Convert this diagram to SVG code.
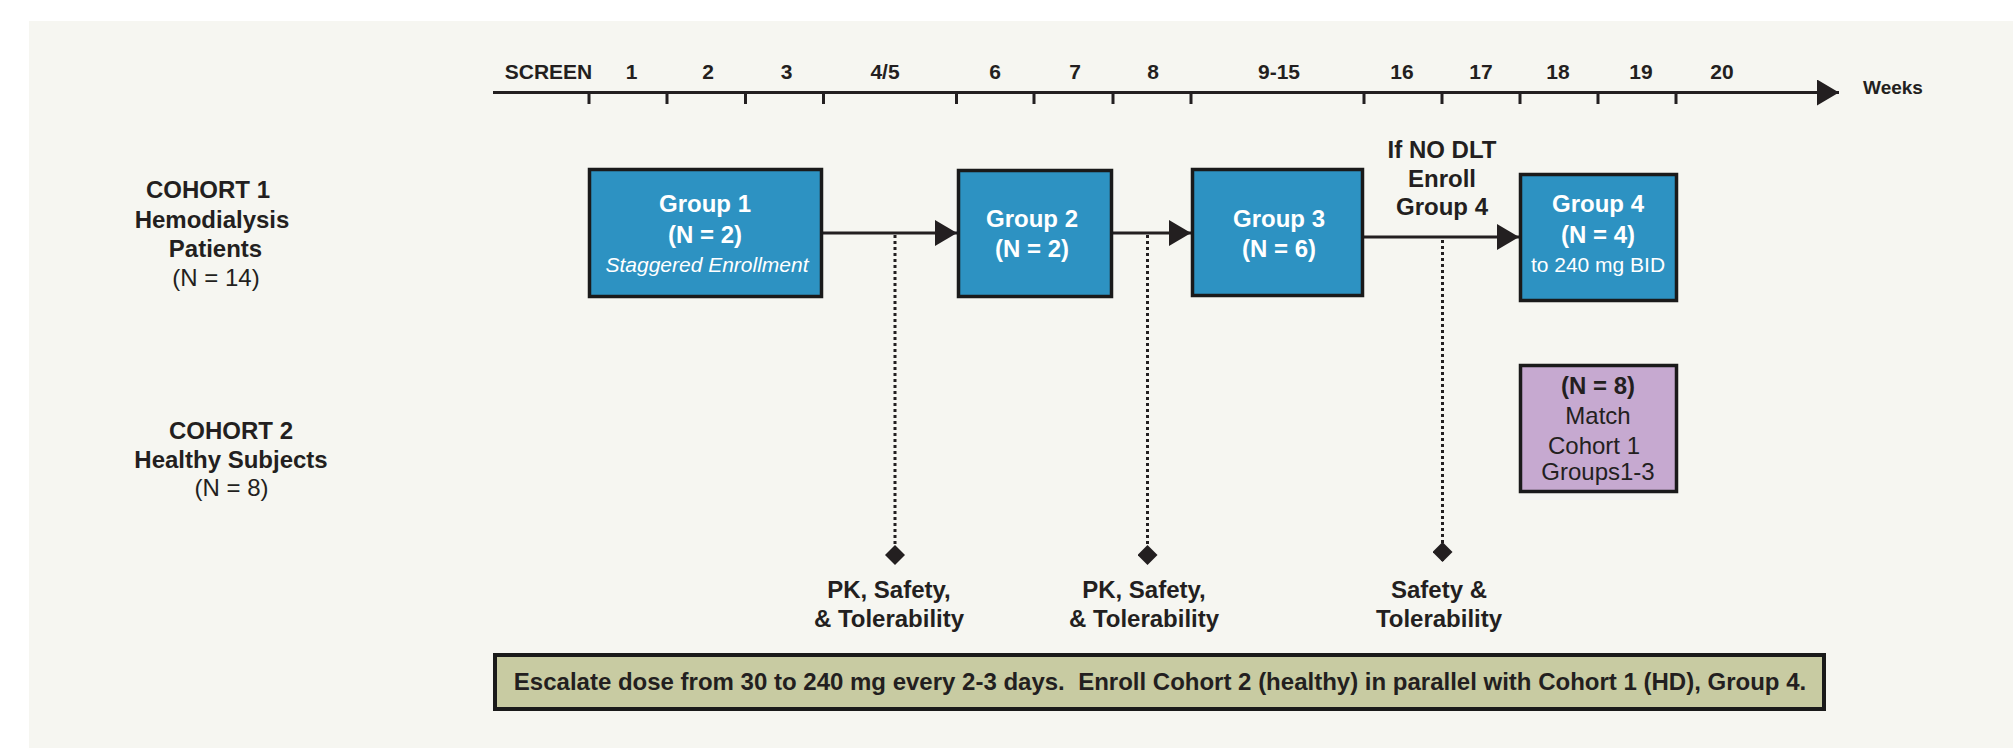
<svg xmlns="http://www.w3.org/2000/svg" width="2013" height="748" viewBox="0 0 2013 748">
<defs>
<style>
.t{font-family:"Liberation Sans",Arial,Helvetica,sans-serif;fill:#231f20;text-anchor:middle}
.b{font-weight:bold}
.ax{font-size:21px;font-weight:bold}
.lb{font-size:24px}
.w{fill:#ffffff}
.grp{fill:#2d92c2;stroke:#1a1a1a;stroke-width:3.5}
.pur{fill:#c6a9d0;stroke:#1a1a1a;stroke-width:3.5}
.note{fill:#c8cba2;stroke:#1a1a1a;stroke-width:4}
.ln{stroke:#231f20;stroke-width:3;fill:none}
.dot{stroke:#231f20;stroke-width:3;stroke-dasharray:3 3;fill:none}
.tick{stroke:#231f20;stroke-width:3}
</style>
<marker id="arr" markerUnits="userSpaceOnUse" markerWidth="24" markerHeight="28" refX="22" refY="13" orient="auto">
<path d="M0,0 L22,13 L0,26 Z" fill="#231f20"/>
</marker>
<marker id="dia" markerUnits="userSpaceOnUse" markerWidth="22" markerHeight="22" refX="10" refY="20" orient="0">
<path d="M10,0 L20,10 L10,20 L0,10 Z" fill="#231f20"/>
</marker>
</defs>
<rect x="0" y="0" width="2013" height="748" fill="#ffffff"/>
<rect x="29" y="21" width="1984" height="727" fill="#f6f6f1"/>

<g id="timeline">
<line x1="493" y1="92.5" x2="1839" y2="92.5" class="ln" stroke-width="3.5" marker-end="url(#arr)"/>
<g class="tick">
<line x1="589" y1="92" x2="589" y2="104"/>
<line x1="667" y1="92" x2="667" y2="104"/>
<line x1="745.5" y1="92" x2="745.5" y2="104"/>
<line x1="823.5" y1="92" x2="823.5" y2="104"/>
<line x1="956.5" y1="92" x2="956.5" y2="104"/>
<line x1="1034" y1="92" x2="1034" y2="104"/>
<line x1="1113" y1="92" x2="1113" y2="104"/>
<line x1="1191" y1="92" x2="1191" y2="104"/>
<line x1="1364" y1="92" x2="1364" y2="104"/>
<line x1="1442" y1="92" x2="1442" y2="104"/>
<line x1="1520" y1="92" x2="1520" y2="104"/>
<line x1="1598" y1="92" x2="1598" y2="104"/>
<line x1="1676" y1="92" x2="1676" y2="104"/>
</g>
<text class="t ax" x="548.5" y="79">SCREEN</text>
<text class="t ax" x="631.5" y="79">1</text>
<text class="t ax" x="708" y="79">2</text>
<text class="t ax" x="786.5" y="79">3</text>
<text class="t ax" x="885" y="79">4/5</text>
<text class="t ax" x="995" y="79">6</text>
<text class="t ax" x="1075" y="79">7</text>
<text class="t ax" x="1153" y="79">8</text>
<text class="t ax" x="1279" y="79">9-15</text>
<text class="t ax" x="1402" y="79">16</text>
<text class="t ax" x="1481" y="79">17</text>
<text class="t ax" x="1558" y="79">18</text>
<text class="t ax" x="1641" y="79">19</text>
<text class="t ax" x="1722" y="79">20</text>
<text class="t b" x="1893" y="94" font-size="19">Weeks</text>
</g>

<g id="cohort1-label">
<text class="t lb b" x="208" y="198">COHORT 1</text>
<text class="t lb b" x="212" y="227.5">Hemodialysis</text>
<text class="t lb b" x="215.5" y="256.5">Patients</text>
<text class="t lb" x="216" y="286">(N = 14)</text>
</g>

<g id="cohort2-label">
<text class="t lb b" x="231" y="439">COHORT 2</text>
<text class="t lb b" x="231" y="468">Healthy Subjects</text>
<text class="t lb" x="231.5" y="496">(N = 8)</text>
</g>

<g id="connectors">
<line x1="823" y1="233" x2="957" y2="233" class="ln" marker-end="url(#arr)"/>
<line x1="1113" y1="233" x2="1191" y2="233" class="ln" marker-end="url(#arr)"/>
<line x1="1364" y1="237" x2="1519" y2="237" class="ln" marker-end="url(#arr)"/>
<line x1="895" y1="235" x2="895" y2="565" class="dot" marker-end="url(#dia)"/>
<line x1="1147.5" y1="235" x2="1147.5" y2="565" class="dot" marker-end="url(#dia)"/>
<line x1="1442.5" y1="240" x2="1442.5" y2="562" class="dot" marker-end="url(#dia)"/>
</g>

<g id="group1">
<rect class="grp" x="589.5" y="169.5" width="232" height="127"/>
<text class="t lb b w" x="705" y="212">Group 1</text>
<text class="t lb b w" x="705" y="243">(N = 2)</text>
<text class="t w" x="707" y="272" font-size="21" font-style="italic">Staggered Enrollment</text>
</g>

<g id="group2">
<rect class="grp" x="958.5" y="170.5" width="153" height="126"/>
<text class="t lb b w" x="1032" y="227">Group 2</text>
<text class="t lb b w" x="1032" y="257">(N = 2)</text>
</g>

<g id="group3">
<rect class="grp" x="1192.5" y="169.5" width="170" height="126"/>
<text class="t lb b w" x="1279" y="227">Group 3</text>
<text class="t lb b w" x="1279" y="257">(N = 6)</text>
</g>

<g id="condition-label">
<text class="t lb b" x="1442" y="158">If NO DLT</text>
<text class="t lb b" x="1442" y="187">Enroll</text>
<text class="t lb b" x="1442" y="215">Group 4</text>
</g>

<g id="group4">
<rect class="grp" x="1520.5" y="174.5" width="156" height="126"/>
<text class="t lb b w" x="1598" y="212">Group 4</text>
<text class="t lb b w" x="1598" y="243">(N = 4)</text>
<text class="t w" x="1598" y="272" font-size="21">to 240 mg BID</text>
</g>

<g id="cohort2-box">
<rect class="pur" x="1520.5" y="365.5" width="156" height="126"/>
<text class="t lb b" x="1598" y="394">(N = 8)</text>
<text class="t lb" x="1598" y="424">Match</text>
<text class="t lb" x="1594" y="454">Cohort 1</text>
<text class="t lb" x="1598" y="480">Groups1-3</text>
</g>

<g id="endpoint1">
<text class="t lb b" x="889" y="598">PK, Safety,</text>
<text class="t lb b" x="889" y="627">&amp; Tolerability</text>
</g>
<g id="endpoint2">
<text class="t lb b" x="1144" y="598">PK, Safety,</text>
<text class="t lb b" x="1144" y="627">&amp; Tolerability</text>
</g>
<g id="endpoint3">
<text class="t lb b" x="1439" y="598">Safety &amp;</text>
<text class="t lb b" x="1439" y="627">Tolerability</text>
</g>

<g id="note">
<rect class="note" x="495" y="655" width="1329" height="54"/>
<text class="t lb b" x="1160" y="690" xml:space="preserve">Escalate dose from 30 to 240 mg every 2-3 days.  Enroll Cohort 2 (healthy) in parallel with Cohort 1 (HD), Group 4.</text>
</g>
</svg>
